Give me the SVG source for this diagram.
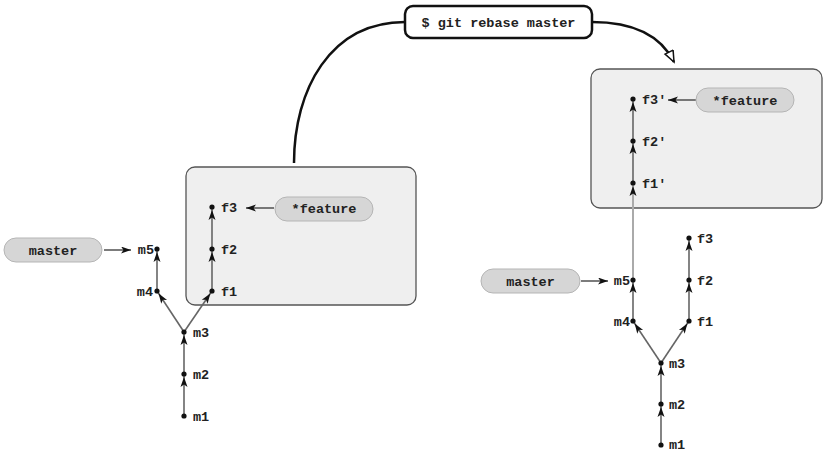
<svg xmlns="http://www.w3.org/2000/svg" width="825" height="452" viewBox="0 0 825 452">
<style>
text{font-family:"Liberation Mono","DejaVu Sans Mono",monospace;font-weight:bold;font-size:13.5px;fill:#222}
.box{fill:#efefef;stroke:#555;stroke-width:1.3}
.pill{fill:#d6d6d6;stroke:#b5b5b5;stroke-width:1}
.e{stroke:#666;stroke-width:1.6;fill:none;marker-end:url(#ah)}
.e2{stroke:#aaa;stroke-width:2;fill:none;marker-end:url(#ah)}
.p{stroke:#444;stroke-width:1.4;fill:none;marker-end:url(#ap)}
.dot{fill:#111}
.mid{text-anchor:middle}
.end{text-anchor:end}
</style>
<defs>
<marker id="ah" markerUnits="userSpaceOnUse" markerWidth="12" markerHeight="8" viewBox="0 0 12 8" refX="13" refY="3.5" orient="auto" overflow="visible">
<path d="M0,0 L10,3.5 L0,7 L2.5,3.5 z" fill="#111"/>
</marker>
<marker id="ap" markerUnits="userSpaceOnUse" markerWidth="12" markerHeight="8" viewBox="0 0 12 8" refX="10" refY="3.5" orient="auto">
<path d="M0,0 L10,3.5 L0,7 L2.5,3.5 z" fill="#111"/>
</marker>
<marker id="hollow" markerUnits="userSpaceOnUse" markerWidth="14" markerHeight="12" viewBox="0 0 14 12" refX="12" refY="5" orient="auto">
<path d="M1,0.5 L12,5 L1,9.5 z" fill="#fff" stroke="#111" stroke-width="1.5"/>
</marker>
</defs>

<g id="box-left"><rect class="box" x="186" y="167" width="230" height="138" rx="9"/></g>
<g id="box-right"><rect class="box" x="591" y="69" width="231" height="139" rx="9"/></g>

<g id="connectors">
<path d="M405,22 C330,22 294,90 294,163" fill="none" stroke="#111" stroke-width="2.5"/>
<path d="M592,22 C630,22 660,34 674,62" fill="none" stroke="#111" stroke-width="2.5" marker-end="url(#hollow)"/>
<line class="e" x1="184" y1="416" x2="184" y2="374"/>
<line class="e" x1="184" y1="374" x2="184" y2="332"/>
<line class="e" x1="184" y1="332" x2="157" y2="291"/>
<line class="e" x1="184" y1="332" x2="212" y2="291"/>
<line class="e" x1="157" y1="291" x2="157" y2="249"/>
<line class="e" x1="212" y1="291" x2="212" y2="249"/>
<line class="e" x1="212" y1="249" x2="212" y2="207"/>
<line class="p" x1="104" y1="250" x2="131" y2="250"/>
<line class="p" x1="274" y1="208" x2="246" y2="208"/>
<line class="e" x1="661" y1="445" x2="661" y2="404"/>
<line class="e" x1="661" y1="404" x2="661" y2="363"/>
<line class="e" x1="661" y1="363" x2="633" y2="321"/>
<line class="e" x1="661" y1="363" x2="689" y2="321"/>
<line class="e" x1="633" y1="321" x2="633" y2="280"/>
<line class="e" x1="689" y1="321" x2="689" y2="280"/>
<line class="e" x1="689" y1="280" x2="689" y2="238"/>
<line class="p" x1="581" y1="281" x2="608" y2="281"/>
<line class="e2" x1="633" y1="280" x2="633" y2="183"/>
<line class="e" x1="633" y1="183" x2="633" y2="141"/>
<line class="e" x1="633" y1="141" x2="633" y2="99"/>
<line class="p" x1="696" y1="100" x2="668" y2="100"/>
</g>

<g id="cmd">
<rect x="405" y="6" width="187" height="32" rx="8" fill="#fff" stroke="#111" stroke-width="2.5"/>
<text class="mid" x="498.5" y="26.5">$ git rebase master</text>
</g>

<g id="L-master"><rect class="pill" x="4" y="238" width="98" height="24" rx="12"/><text class="mid" x="53" y="254.5">master</text></g>
<g id="L-feature"><rect class="pill" x="275" y="197" width="98" height="24" rx="12"/><text class="mid" x="324" y="213">*feature</text></g>
<g id="L-m1"><circle class="dot" cx="184" cy="416" r="2.6"/><text x="193" y="420.5">m1</text></g>
<g id="L-m2"><circle class="dot" cx="184" cy="374" r="2.6"/><text x="193" y="378.5">m2</text></g>
<g id="L-m3"><circle class="dot" cx="184" cy="332" r="2.6"/><text x="193" y="336.5">m3</text></g>
<g id="L-m4"><circle class="dot" cx="157" cy="291" r="2.6"/><text class="end" x="153" y="295.5">m4</text></g>
<g id="L-m5"><circle class="dot" cx="157" cy="249" r="2.6"/><text class="end" x="154" y="253.5">m5</text></g>
<g id="L-f1"><circle class="dot" cx="212" cy="291" r="2.6"/><text x="221" y="295.5">f1</text></g>
<g id="L-f2"><circle class="dot" cx="212" cy="249" r="2.6"/><text x="221" y="253.5">f2</text></g>
<g id="L-f3"><circle class="dot" cx="212" cy="207" r="2.6"/><text x="221" y="211.5">f3</text></g>

<g id="R-master"><rect class="pill" x="481" y="269" width="99" height="24" rx="12"/><text class="mid" x="530.5" y="285.5">master</text></g>
<g id="R-feature"><rect class="pill" x="696" y="88" width="98" height="24" rx="12"/><text class="mid" x="745" y="104.5">*feature</text></g>
<g id="R-m1"><circle class="dot" cx="661" cy="445" r="2.6"/><text x="669" y="449">m1</text></g>
<g id="R-m2"><circle class="dot" cx="661" cy="404" r="2.6"/><text x="669" y="408.5">m2</text></g>
<g id="R-m3"><circle class="dot" cx="661" cy="363" r="2.6"/><text x="669" y="367.5">m3</text></g>
<g id="R-m4"><circle class="dot" cx="633" cy="321" r="2.6"/><text class="end" x="630" y="325.5">m4</text></g>
<g id="R-m5"><circle class="dot" cx="633" cy="280" r="2.6"/><text class="end" x="630" y="284.5">m5</text></g>
<g id="R-f1"><circle class="dot" cx="689" cy="321" r="2.6"/><text x="697" y="325.5">f1</text></g>
<g id="R-f2"><circle class="dot" cx="689" cy="280" r="2.6"/><text x="697" y="284.5">f2</text></g>
<g id="R-f3"><circle class="dot" cx="689" cy="238" r="2.6"/><text x="697" y="242.5">f3</text></g>
<g id="R-f1p"><circle class="dot" cx="633" cy="183" r="2.6"/><text x="642" y="187.5">f1'</text></g>
<g id="R-f2p"><circle class="dot" cx="633" cy="141" r="2.6"/><text x="642" y="145.5">f2'</text></g>
<g id="R-f3p"><circle class="dot" cx="633" cy="99" r="2.6"/><text x="642" y="103.5">f3'</text></g>
</svg>
